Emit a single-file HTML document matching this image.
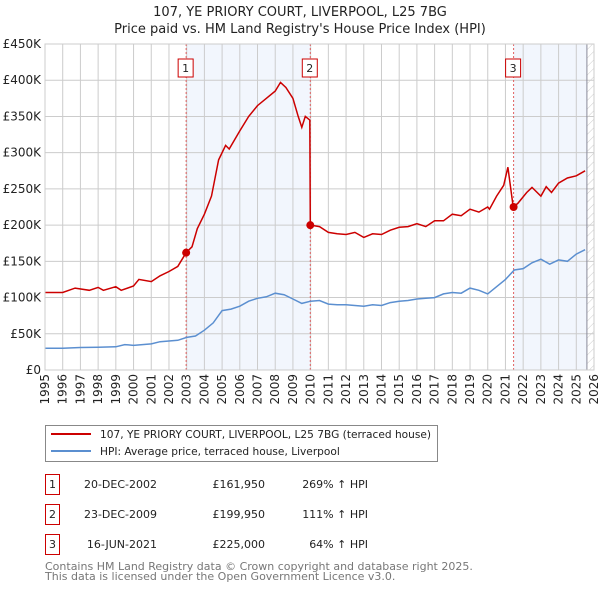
<!DOCTYPE html>
<html><head><meta charset="utf-8"><style>
body{margin:0;background:#fff;font-family:"Liberation Sans","DejaVu Sans",sans-serif}
svg text{font-family:"DejaVu Sans","Liberation Sans",sans-serif}
</style></head><body>
<svg id="c" width="600" height="590" xmlns="http://www.w3.org/2000/svg"></svg>
<script>
const hpiYears=[1995,1996,1997,1998,1999,1999.5,2000,2001,2001.5,2002,2002.5,2003,2003.5,2004,2004.5,2005,2005.5,2006,2006.5,2007,2007.5,2008,2008.5,2009,2009.5,2010,2010.5,2011,2011.5,2012,2012.5,2013,2013.5,2014,2014.5,2015,2015.5,2016,2016.5,2017,2017.5,2018,2018.5,2019,2019.5,2020,2020.5,2021,2021.5,2022,2022.5,2023,2023.5,2024,2024.5,2025,2025.5];
const hpiValues=[30,30,31,31.5,32,35,34,36,39,40,41,45,47,55,65,82,84,88,95,99,101,106,104,98,92,95,96,91,90,90,89,88,90,89,93,95,96,98,99,100,105,107,106,113,110,105,115,125,138,140,148,153,146,152,150,160,166];
const ppYears=[1995,1996,1996.7,1997.5,1998,1998.3,1999,1999.3,2000,2000.3,2001,2001.5,2002,2002.5,2002.8,2002.97,2003.3,2003.6,2004,2004.4,2004.8,2005.2,2005.4,2006,2006.5,2007,2007.5,2008,2008.3,2008.6,2009,2009.3,2009.5,2009.7,2009.95,2009.98,2010.5,2011,2011.5,2012,2012.5,2013,2013.5,2014,2014.5,2015,2015.5,2016,2016.5,2017,2017.5,2018,2018.5,2019,2019.5,2020,2020.1,2020.5,2020.9,2021.14,2021.44,2021.7,2022.2,2022.5,2023,2023.3,2023.6,2024,2024.5,2025,2025.5];
const ppValues=[107,107,113,110,114,110,115,110,116,125,122,130,136,143,155,162,170,195,215,240,290,310,305,330,350,365,375,385,397,390,375,350,335,350,345,200,198,190,188,187,190,183,188,187,193,197,198,202,198,206,206,215,213,222,218,225,222,240,255,280,225,230,245,252,240,253,245,258,265,268,275];
const saleYears=[2002.97,2009.98,2021.46];
const saleValues=[161.95,199.95,225];
const saleLabels=["1","2","3"];
const yTicks=[0,50,100,150,200,250,300,350,400,450];
const yTickLabels=["£0","£50K","£100K","£150K","£200K","£250K","£300K","£350K","£400K","£450K"];
const xTicks=[1995,1996,1997,1998,1999,2000,2001,2002,2003,2004,2005,2006,2007,2008,2009,2010,2011,2012,2013,2014,2015,2016,2017,2018,2019,2020,2021,2022,2023,2024,2025,2026];

const X0=45,X1=594,Y0=370,Y1=44;
const xs=y=>X0+(y-1995)/31*(X1-X0);
const ys=v=>Y0-v/450*(Y0-Y1);
const NS="http://www.w3.org/2000/svg";
const svg=document.getElementById('c');
function mk(t,a,p){const e=document.createElementNS(NS,t);for(const k in a)e.setAttribute(k,a[k]);(p||svg).appendChild(e);return e;}

let defs=mk('defs',{});
let pat=mk('pattern',{id:'hatch',width:6,height:6,patternUnits:'userSpaceOnUse',patternTransform:'rotate(45)'},defs);
mk('line',{x1:0,y1:0,x2:0,y2:6,stroke:'#ccc','stroke-width':1},pat);

let t1=mk('text',{x:300,y:16,'text-anchor':'middle','font-size':13,fill:'#222'});t1.textContent="107, YE PRIORY COURT, LIVERPOOL, L25 7BG";

let t2=mk('text',{x:300,y:33,'text-anchor':'middle','font-size':13,fill:'#222'});t2.textContent="Price paid vs. HM Land Registry's House Price Index (HPI)";


let s1=mk('rect',{x:xs(saleYears[0]),y:Y1,width:xs(saleYears[1])-xs(saleYears[0]),height:Y0-Y1,fill:'#f2f6fd'});

const endY=2025.6;
let s2=mk('rect',{x:xs(saleYears[2]),y:Y1,width:xs(endY)-xs(saleYears[2]),height:Y0-Y1,fill:'#f2f6fd'});

let h=mk('rect',{x:xs(endY),y:Y1,width:X1-xs(endY),height:Y0-Y1,fill:'url(#hatch)'});


yTicks.forEach((v,i)=>{
  let l=mk('line',{x1:X0,x2:X1,y1:ys(v),y2:ys(v),stroke:'#ccc','stroke-width':1});
  
  let t=mk('text',{x:X0-4,y:ys(v)+4,'text-anchor':'end','font-size':12,fill:'#222'});t.textContent=yTickLabels[i];
  
});
xTicks.forEach(y=>{
  let l=mk('line',{x1:xs(y),x2:xs(y),y1:Y1,y2:Y0,stroke:'#ccc','stroke-width':1});
  
  let t=mk('text',{x:0,y:0,'text-anchor':'end','font-size':12,fill:'#222',transform:`translate(${xs(y)+4},${Y0+4}) rotate(-90)`});t.textContent=y;
  
});
let el=mk('line',{x1:xs(endY),x2:xs(endY),y1:Y1,y2:Y0,stroke:'#889','stroke-width':1});


saleYears.forEach((y,i)=>{
  let l=mk('line',{x1:xs(y),x2:xs(y),y1:Y1,y2:Y0,stroke:'#e06060','stroke-width':1,'stroke-dasharray':'2,2'});
  
  let r=mk('rect',{x:xs(y)-8,y:59,width:15,height:18,fill:'#fff',stroke:'#c00','stroke-width':1});
  
  let t=mk('text',{x:xs(y)-0.5,y:72,'text-anchor':'middle','font-size':11,fill:'#222'});t.textContent=saleLabels[i];
  
});

const pts=(a,b)=>a.map((y,i)=>xs(y).toFixed(1)+','+ys(b[i]).toFixed(1)).join(' ');
let hl=mk('polyline',{points:pts(hpiYears,hpiValues),fill:'none',stroke:'#5b8fd0','stroke-width':1.5});

let pl=mk('polyline',{points:pts(ppYears,ppValues),fill:'none',stroke:'#cc0000','stroke-width':1.5});

saleYears.forEach((y,i)=>{
  let c=mk('circle',{cx:xs(y),cy:ys(saleValues[i]),r:4,fill:'#cc0000'});
  
});
let ax=mk('rect',{x:X0,y:Y1,width:X1-X0,height:Y0-Y1,fill:'none',stroke:'#ccc','stroke-width':1});


let lg=mk('rect',{x:45.5,y:425.5,width:392,height:36,fill:'#fff',stroke:'#888','stroke-width':1});

let ll1=mk('line',{x1:51,x2:91,y1:434,y2:434,stroke:'#cc0000','stroke-width':2});

let lt1=mk('text',{x:100,y:438,'font-size':10.6,fill:'#222'});lt1.textContent="107, YE PRIORY COURT, LIVERPOOL, L25 7BG (terraced house)";

let ll2=mk('line',{x1:51,x2:91,y1:451,y2:451,stroke:'#5b8fd0','stroke-width':2});

let lt2=mk('text',{x:100,y:455,'font-size':10.6,fill:'#222'});lt2.textContent="HPI: Average price, terraced house, Liverpool";


const rowDates=["20-DEC-2002","23-DEC-2009","16-JUN-2021"];
const rowPrices=["£161,950","£199,950","£225,000"];
const rowPct=["269% ↑ HPI","111% ↑ HPI","64% ↑ HPI"];
rowDates.forEach((d,i)=>{
  const cy=483+i*30;
  let r=mk('rect',{x:45.5,y:cy-8.5,width:14,height:20,fill:'#fff',stroke:'#c00','stroke-width':1});
  
  let n=mk('text',{x:52.5,y:cy+5,'text-anchor':'middle','font-size':11,fill:'#222'});n.textContent=saleLabels[i];
  
  let a=mk('text',{x:157,y:cy+5,'text-anchor':'end','font-size':11,fill:'#222'});a.textContent=d;
  
  let b=mk('text',{x:265,y:cy+5,'text-anchor':'end','font-size':11,fill:'#222'});b.textContent=rowPrices[i];
  
  let c=mk('text',{x:368,y:cy+5,'text-anchor':'end','font-size':11,fill:'#222'});c.textContent=rowPct[i];
  
});
let f1=mk('text',{x:45,y:570,'font-size':11,fill:'#777'});f1.textContent="Contains HM Land Registry data © Crown copyright and database right 2025.";

let f2=mk('text',{x:45,y:580,'font-size':11,fill:'#777'});f2.textContent="This data is licensed under the Open Government Licence v3.0.";

</script>
</body></html>
